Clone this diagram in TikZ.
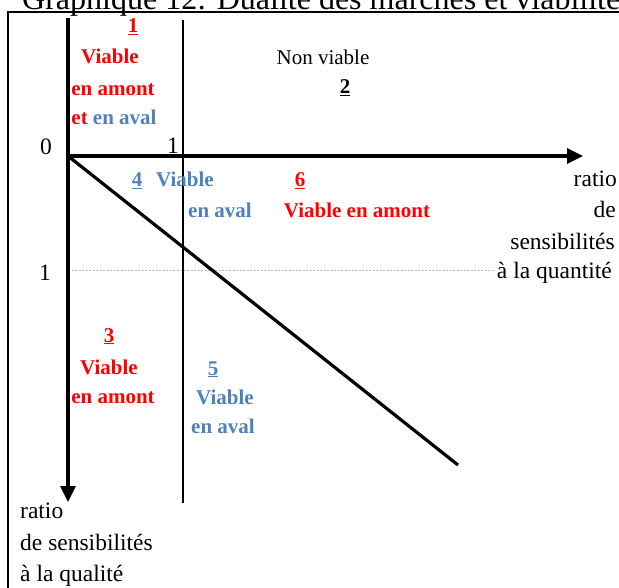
\documentclass[tikz,border=0pt]{standalone}
\usepackage{fontspec}
\setmainfont{Liberation Serif}
\usetikzlibrary{arrows.meta}
\definecolor{vred}{RGB}{255,0,0}
\definecolor{vblue}{RGB}{79,129,189}
\begin{document}
\begin{tikzpicture}[x=1pt,y=-1pt,
  txt/.style={inner sep=0pt, anchor=base, font=\fontsize{21}{25}\selectfont},
  axtxt/.style={inner sep=0pt, anchor=base, font=\fontsize{23.5}{27}\selectfont},
  btxt/.style={inner sep=0pt, anchor=base, font=\fontsize{21}{25}\selectfont\bfseries},
  axis/.style={line width=3.2pt, -{Triangle[length=16pt,width=15pt]}},
  thin/.style={line width=1.5pt},
  guide/.style={gray!55, line width=0.6pt, dash pattern=on 2pt off 1.5pt},
  frame/.style={line width=2pt}]
\useasboundingbox (0,0) rectangle (619,588);
% title (cut by the page edge, as in the reference)
\node[inner sep=0pt, anchor=base west, font=\fontsize{32}{36}\selectfont] (title) at (22,9.5) {Graphique 12: Dualité des marchés et viabilité};
% frame
\draw[frame] (7.5,640) -- (7.5,12) -- (660,12);
% axes
\coordinate (O) at (68,156);
\coordinate (Xend) at (583,156);
\coordinate (Ytop) at (68,18);
\coordinate (Yend) at (68,502);
\coordinate (Vtop) at (183,20);
\coordinate (Vbot) at (183,503);
\coordinate (Dend) at (458,465);
\coordinate (G1) at (68,270);
\coordinate (G2) at (494,270);
\draw[guide] (G1) -- (G2);
\draw[thin] (Vtop) -- (Vbot);
\draw[line width=3.2pt] (Ytop) -- (O);
\draw[axis] (O) -- (Yend);
\draw[axis] (O) -- (Xend);
\draw[line width=3.2pt] (O) -- (Dend);
% tick labels
\node[axtxt] (z0) at (46,155) {0};
\node[axtxt] (xone) at (173,154) {1};
\node[axtxt] (yone) at (45,281) {1};
% zone 1
\node[btxt, vred] (n1) at (133,33) {\underline{1}};
\node[btxt, vred] (n1a) at (110,64) {Viable};
\node[btxt, vred] (n1b) at (113,96) {en amont};
\node[btxt] (n1c) at (114,125) {\textcolor{vred}{et} \textcolor{vblue}{en aval}};
% zone 2
\node[txt] (n2a) at (323,65) {Non viable};
\node[btxt] (n2) at (345,94) {\underline{2}};
% zone 4
\node[btxt, vblue] (n4) at (137,187) {\underline{4}};
\node[btxt, vblue] (n4a) at (185,187) {Viable};
\node[btxt, vblue] (n4b) at (220,218) {en aval};
% zone 6
\node[btxt, vred] (n6) at (300,187) {\underline{6}};
\node[btxt, vred] (n6a) at (357,218) {Viable en amont};
% zone 3
\node[btxt, vred] (n3) at (109,342) {\underline{3}};
\node[btxt, vred] (n3a) at (109,374) {Viable};
\node[btxt, vred] (n3b) at (113,403) {en amont};
% zone 5
\node[btxt, vblue] (n5) at (213,375) {\underline{5}};
\node[btxt, vblue] (n5a) at (225,404) {Viable};
\node[btxt, vblue] (n5b) at (223,433) {en aval};
% x axis label
\node[axtxt, anchor=base east] (xl1) at (617,187) {ratio};
\node[axtxt, anchor=base east] (xl2) at (616,218) {de};
\node[axtxt, anchor=base east] (xl3) at (615,250) {sensibilités};
\node[axtxt, anchor=base east] (xl4) at (612,279) {à la quantité};
% y axis label
\node[axtxt, anchor=base west] (yl1) at (20,518) {ratio};
\node[axtxt, anchor=base west] (yl2) at (20,550) {de sensibilités};
\node[axtxt, anchor=base west] (yl3) at (20,581) {à la qualité};
\end{tikzpicture}
\end{document}
